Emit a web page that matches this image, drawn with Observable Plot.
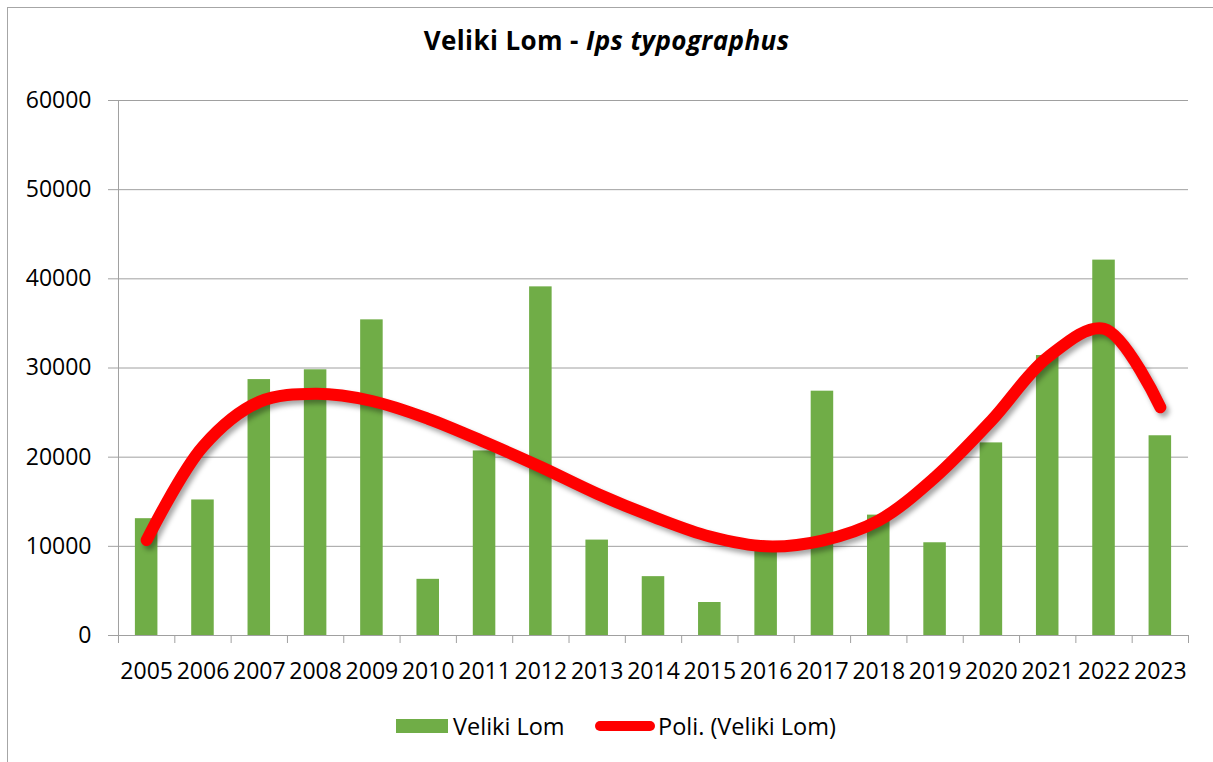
<!DOCTYPE html>
<html>
<head>
<meta charset="utf-8">
<script src="https://cdn.jsdelivr.net/npm/d3@7"></script>
<script src="https://cdn.jsdelivr.net/npm/@observablehq/plot@0.6"></script>
<style>
  body { margin: 0; background: #fff; font-family: "Open Sans", sans-serif; }
  #wrap { position: relative; width: 1213px; height: 762px; overflow: hidden; background: #fff; }
  #border { position: absolute; left: 7px; top: 7px; width: 1240px; height: 800px; border: 1.5px solid #a6a6a6; box-sizing: border-box; }
  #title { position: absolute; left: 0; top: 0; width: 1213px; height: 80px; line-height: 80px; box-sizing: border-box;
           text-align: center; font-size: 26px; letter-spacing: 0.4px; font-weight: bold; color: #000; }
  #chart { position: absolute; left: 0; top: 80px; }
  #legend { position: absolute; left: 0; top: 700px; width: 1213px; height: 62px; font-size: 23.5px; color: #000; }
  .sw { position: absolute; }
  .lt { position: absolute; top: 7px; line-height: 38px; white-space: nowrap; }
  #chart svg g[aria-label="line"] { filter: drop-shadow(3px 4px 2.5px rgba(0,0,0,0.35)); }
</style>
</head>
<body>
<div id="wrap">
  <div id="border"></div>
  <div id="title">Veliki Lom - <i>Ips typographus</i></div>
  <div id="chart"></div>
  <div id="legend">
    <div class="sw" style="left:396px;top:19px;width:52px;height:14px;background:#70ad47;"></div>
    <div class="lt" style="left:453px;">Veliki Lom</div>
    <div class="sw" style="left:595px;top:21px;width:60px;height:10px;border-radius:5px;background:#ff0000;"></div>
    <div class="lt" style="left:658px;">Poli. (Veliki Lom)</div>
  </div>
</div>
<script>
const years = ["2005","2006","2007","2008","2009","2010","2011","2012","2013","2014","2015","2016","2017","2018","2019","2020","2021","2022","2023"];
const values = [13100, 15200, 28700, 29800, 35400, 6300, 20700, 39100, 10700, 6600, 3700, 9500, 27400, 13500, 10400, 21600, 31400, 42100, 22400];
const trend = [10700, 21200, 26200, 27100, 26300, 24300, 21700, 18900, 15900, 13300, 11100, 10000, 10650, 12900, 17750, 24100, 31200, 34400, 25600];
const yTicks = [0, 10000, 20000, 30000, 40000, 50000, 60000];

const data = years.map((year, i) => ({year, value: values[i], trend: trend[i]}));

const W = 1213, mL = 118, mR = 25;
const half = (W - mL - mR) / years.length / 2;
const grey = "#a0a0a0";

const chart = Plot.plot({
  width: W,
  height: 620,
  marginLeft: mL,
  marginRight: mR,
  marginTop: 20,
  marginBottom: 65,
  style: {fontFamily: "'Open Sans', sans-serif", fontSize: "23px", color: "#000", background: "transparent", overflow: "visible"},
  x: {type: "band", domain: years, paddingInner: 0.6, paddingOuter: 0.3, round: false, label: null},
  y: {domain: [0, 60000], label: null},
  marks: [
    Plot.gridY(yTicks, {stroke: grey, strokeOpacity: 1, strokeWidth: 1}),
    Plot.ruleX([years[0]], {dx: -half, insetBottom: -8, stroke: grey}),
    Plot.ruleX(years, {dx: -half, y1: 0, y2: 0, insetBottom: -8, stroke: grey}),
    Plot.ruleX([years[years.length - 1]], {dx: half, y1: 0, y2: 0, insetBottom: -8, stroke: grey}),
    Plot.axisY(yTicks, {tickSize: 10, tickPadding: 17, stroke: grey, fill: "#000", tickFormat: d3.format("d"), label: null}),
    Plot.axisX({tickSize: 0, tickPadding: 27, fill: "#000", label: null}),
    Plot.barY(data, {x: "year", y: "value", fill: "#70ad47"}),
    Plot.line(data, {x: "year", y: "trend", stroke: "#ff0000", strokeWidth: 12, strokeLinecap: "round", strokeLinejoin: "round", curve: "catmull-rom"})
  ]
});
document.getElementById("chart").appendChild(chart);
</script>
</body>
</html>
